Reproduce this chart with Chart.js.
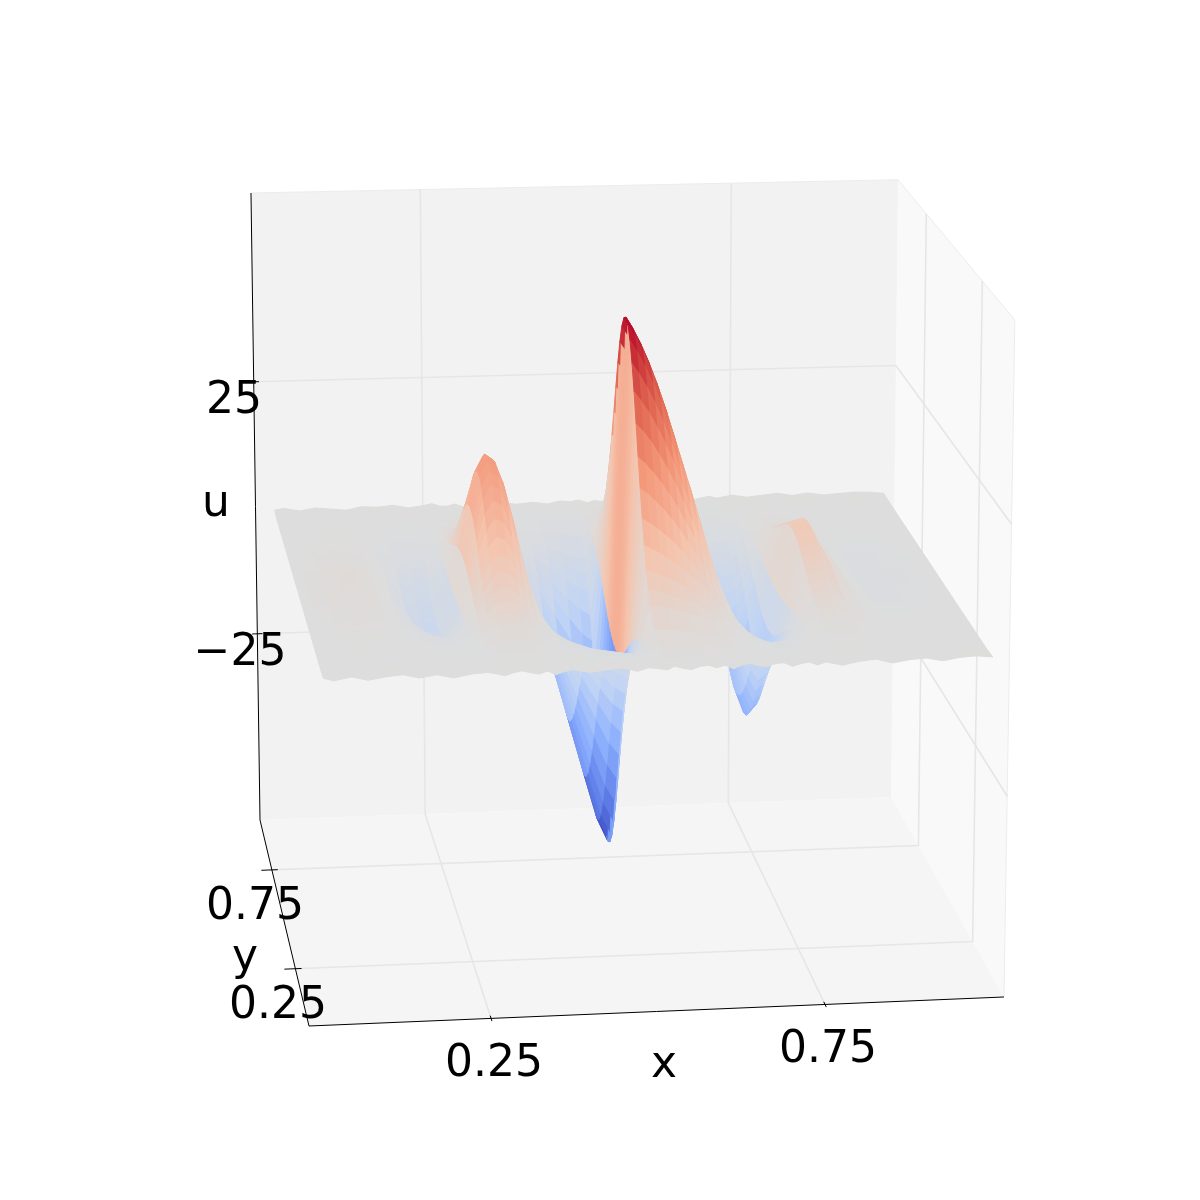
<!DOCTYPE html>
<html>
<head>
<meta charset="utf-8">
<script src="https://cdn.jsdelivr.net/npm/chart.js@4"></script>
<style>
  html, body { margin: 0; padding: 0; background: #fff; }
  canvas { display: block; }
</style>
</head>
<body>
<canvas id="surface" width="1200" height="1200"></canvas>
<script>
// surface: u at each (x, y)
const xValues = [.01, .025, .05, .075, .1, .125, .15, .175, .2, .225, .25, .2625, .275, .2875, .3, .3125, .325, .3375, .35, .3625, .375, .4, .425, .45, .47, .487, .5, .515, .525, .5375, .55, .5625, .575, .5875, .6, .6125, .625, .6375, .65, .6625, .675, .6875, .7, .7125, .725, .7375, .75, .775, .8, .825, .85, .875, .9, .925, .95, .975, 1];
const yValues = [0, .05, .1, .15, .2, .225, .25, .275, .3, .325, .35, .375, .4, .425, .45, .475, .5, .525, .55, .575, .6, .625, .65, .675, .7, .725, .75, .775, .8, .85, .9, .95, 1];
const uGrid = [
  [.3,-.2,.4,-.3,.2,.5,-.2,.3,-.4,.2,.4,.1,-.3,.2,.5,.1,-.2,.3,-.4,.1,.4,-.2,.2,.4,-.3,.3,.1,-.2,.4,0,-.3,.2,.4,-.1,.3,-.4,.2,.5,0,-.2,.3,.4,-.3,.1,.4,-.2,.3,-.4,.2,.5,-.3,.2,.4,-.2,.3,.5,.2],
  [0,.1,0,.1,.1,0,0,0,-.1,0,0,0,.1,.1,.1,.1,.1,.1,0,0,0,-.1,-.1,-.2,-.3,-.3,-.1,.3,.3,.3,.2,.2,.2,.2,.1,.1,.1,0,0,0,-.1,-.1,-.1,-.1,-.1,-.1,0,.1,.1,0,0,0,0,0,0,0,0],
  [0,0,0,0,0,0,0,-.1,-.1,-.1,0,.1,.3,.4,.4,.4,.3,.2,.1,0,-.1,-.3,-.4,-.6,-.8,-.9,-.2,.9,.8,.8,.7,.6,.6,.5,.4,.3,.2,.1,0,-.1,-.3,-.4,-.4,-.4,-.3,-.2,0,.2,.2,.1,0,0,0,0,0,0,0],
  [0,0,0,.1,.1,0,0,-.2,-.3,-.4,-.1,.3,.7,.9,1.1,1,.9,.6,.3,0,-.2,-.7,-1.1,-1.6,-2,-2.2,-.6,2.2,2.1,2,1.8,1.7,1.5,1.2,1,.8,.6,.3,.1,-.3,-.7,-1,-1.1,-1.1,-.8,-.4,-.1,.4,.4,.2,0,0,-.1,0,0,0,0],
  [0,0,.1,.2,.2,.1,-.1,-.4,-.8,-.8,-.2,.6,1.5,2.2,2.5,2.4,2,1.4,.7,.1,-.5,-1.5,-2.6,-3.7,-4.6,-5,-1.3,5,4.8,4.5,4.2,3.8,3.3,2.8,2.3,1.8,1.3,.7,.2,-.6,-1.5,-2.2,-2.6,-2.4,-1.8,-1,-.3,.9,1,.4,0,-.1,-.1,-.1,0,0,0],
  [0,0,.1,.2,.2,.1,-.1,-.6,-1.1,-1.2,-.2,.9,2.2,3.1,3.6,3.4,2.8,2,.9,.1,-.7,-2.2,-3.8,-5.4,-6.6,-7.3,-1.9,7.3,7,6.5,6,5.4,4.8,4.1,3.3,2.6,1.8,1,.2,-.9,-2.2,-3.2,-3.8,-3.5,-2.6,-1.5,-.4,1.3,1.5,.6,.1,-.1,-.2,-.1,-.1,0,0],
  [0,0,.2,.3,.3,.2,-.1,-.8,-1.5,-1.6,-.3,1.2,3,4.3,4.9,4.7,3.9,2.7,1.3,.1,-1,-3,-5.2,-7.4,-9.1,-10,-2.6,10,9.6,9,8.3,7.5,6.6,5.6,4.6,3.6,2.5,1.4,.3,-1.2,-3,-4.4,-5.2,-4.8,-3.6,-2,-.5,1.8,2,.8,.1,-.2,-.2,-.2,-.1,0,0],
  [0,.1,.2,.4,.4,.2,-.1,-1.1,-2.1,-2.2,-.4,1.7,4.1,5.9,6.8,6.5,5.4,3.7,1.8,.1,-1.4,-4.1,-7.2,-10.2,-12.5,-13.8,-3.6,13.8,13.2,12.4,11.4,10.3,9.1,7.7,6.3,5,3.4,1.9,.4,-1.7,-4.1,-6.1,-7.2,-6.6,-5,-2.8,-.7,2.5,2.8,1.1,.1,-.3,-.3,-.3,-.1,-.1,0],
  [0,.1,.3,.5,.5,.3,-.2,-1.4,-2.7,-2.9,-.5,2.2,5.4,7.7,8.9,8.5,7,4.9,2.3,.2,-1.8,-5.4,-9.4,-13.3,-16.4,-18,-4.7,18,17.3,16.2,14.9,13.5,11.9,10.1,8.3,6.5,4.5,2.5,.5,-2.2,-5.4,-7.9,-9.4,-8.6,-6.5,-3.6,-.9,3.2,3.6,1.4,.2,-.4,-.4,-.4,-.2,-.1,0],
  [0,.1,.4,.7,.7,.4,-.2,-1.8,-3.4,-3.7,-.7,2.7,6.9,9.8,11.3,10.8,8.9,6.2,3,.2,-2.3,-6.9,-11.9,-16.9,-20.8,-22.9,-6,22.9,22,20.6,19,17.2,15.1,12.8,10.5,8.2,5.7,3.2,.7,-2.7,-6.9,-10.1,-11.9,-11,-8.2,-4.6,-1.1,4.1,4.6,1.8,.2,-.5,-.5,-.5,-.2,-.1,0],
  [0,.1,.4,.8,.8,.4,-.3,-2.2,-4.2,-4.5,-.8,3.4,8.4,12,13.8,13.2,10.9,7.6,3.6,.3,-2.8,-8.4,-14.6,-20.7,-25.5,-28,-7.3,28,26.9,25.2,23.2,21,18.5,15.7,12.9,10.1,7,3.9,.8,-3.4,-8.4,-12.3,-14.6,-13.4,-10.1,-5.6,-1.4,5,5.6,2.2,.3,-.6,-.7,-.6,-.3,-.1,0],
  [0,.1,.5,1,1,.5,-.3,-2.7,-5,-5.4,-1,4,10.1,14.4,16.5,15.7,13.1,9,4.4,.3,-3.4,-10.1,-17.4,-24.8,-30.5,-33.5,-8.7,33.5,32.2,30.2,27.8,25.1,22.1,18.8,15.4,12.1,8.4,4.7,1,-4,-10.1,-14.7,-17.4,-16.1,-12.1,-6.7,-1.7,6,6.7,2.7,.3,-.7,-.8,-.7,-.3,-.1,0],
  [0,.2,.6,1.2,1.2,.6,-.4,-3.1,-5.8,-6.2,-1.2,4.7,11.6,16.7,19.1,18.2,15.1,10.5,5,.4,-3.9,-11.6,-20.2,-28.7,-35.3,-38.8,-10.1,38.8,37.2,34.9,32.2,29.1,25.6,21.7,17.8,14,9.7,5.4,1.2,-4.7,-11.6,-17.1,-20.2,-18.6,-14,-7.8,-1.9,7,7.8,3.1,.4,-.8,-.9,-.8,-.4,-.2,0],
  [0,.2,.7,1.3,1.3,.7,-.4,-3.5,-6.5,-6.9,-1.3,5.2,13,18.6,21.3,20.4,16.9,11.7,5.6,.4,-4.3,-13,-22.5,-32.1,-39.4,-43.4,-11.3,43.4,41.6,39,36,32.5,28.6,24.3,19.9,15.6,10.8,6.1,1.3,-5.2,-13,-19.1,-22.5,-20.8,-15.6,-8.7,-2.2,7.8,8.7,3.5,.4,-.9,-1,-.9,-.4,-.2,0],
  [0,.2,.8,1.4,1.4,.8,-.5,-3.8,-7,-7.5,-1.4,5.6,14.1,20.2,23.1,22.1,18.3,12.7,6.1,.5,-4.7,-14.1,-24.4,-34.8,-42.8,-47,-12.2,47,45.1,42.3,39,35.3,31,26.3,21.6,16.9,11.8,6.6,1.4,-5.6,-14.1,-20.7,-24.4,-22.6,-16.9,-9.4,-2.4,8.5,9.4,3.8,.5,-.9,-1.1,-.9,-.5,-.2,0],
  [0,.2,.8,1.5,1.5,.8,-.5,-3.9,-7.4,-7.9,-1.5,5.9,14.8,21.2,24.2,23.1,19.2,13.3,6.4,.5,-4.9,-14.8,-25.6,-36.4,-44.8,-49.2,-12.8,49.2,47.2,44.3,40.8,36.9,32.5,27.6,22.6,17.7,12.3,6.9,1.5,-5.9,-14.8,-21.6,-25.6,-23.6,-17.7,-9.8,-2.5,8.9,9.8,3.9,.5,-1,-1.2,-1,-.5,-.2,0],
  [0,.2,.8,1.5,1.5,.8,-.5,-4,-7.5,-8,-1.5,6,15,21.5,24.6,23.5,19.5,13.5,6.5,.5,-5,-15,-26,-37,-45.5,-50,-13,50,48,45,41.5,37.5,33,28,23,18,12.5,7,1.5,-6,-15,-22,-26,-24,-18,-10,-2.5,9,10,4,.5,-1,-1.2,-1,-.5,-.2,0],
  [0,.2,.8,1.5,1.5,.8,-.5,-3.9,-7.4,-7.9,-1.5,5.9,14.8,21.2,24.2,23.1,19.2,13.3,6.4,.5,-4.9,-14.8,-25.6,-36.4,-44.8,-49.2,-12.8,49.2,47.2,44.3,40.8,36.9,32.5,27.6,22.6,17.7,12.3,6.9,1.5,-5.9,-14.8,-21.6,-25.6,-23.6,-17.7,-9.8,-2.5,8.9,9.8,3.9,.5,-1,-1.2,-1,-.5,-.2,0],
  [0,.2,.8,1.4,1.4,.8,-.5,-3.8,-7,-7.5,-1.4,5.6,14.1,20.2,23.1,22.1,18.3,12.7,6.1,.5,-4.7,-14.1,-24.4,-34.8,-42.8,-47,-12.2,47,45.1,42.3,39,35.3,31,26.3,21.6,16.9,11.8,6.6,1.4,-5.6,-14.1,-20.7,-24.4,-22.6,-16.9,-9.4,-2.4,8.5,9.4,3.8,.5,-.9,-1.1,-.9,-.5,-.2,0],
  [0,.2,.7,1.3,1.3,.7,-.4,-3.5,-6.5,-6.9,-1.3,5.2,13,18.6,21.3,20.4,16.9,11.7,5.6,.4,-4.3,-13,-22.5,-32.1,-39.4,-43.4,-11.3,43.4,41.6,39,36,32.5,28.6,24.3,19.9,15.6,10.8,6.1,1.3,-5.2,-13,-19.1,-22.5,-20.8,-15.6,-8.7,-2.2,7.8,8.7,3.5,.4,-.9,-1,-.9,-.4,-.2,0],
  [0,.2,.6,1.2,1.2,.6,-.4,-3.1,-5.8,-6.2,-1.2,4.7,11.6,16.7,19.1,18.2,15.1,10.5,5,.4,-3.9,-11.6,-20.2,-28.7,-35.3,-38.8,-10.1,38.8,37.2,34.9,32.2,29.1,25.6,21.7,17.8,14,9.7,5.4,1.2,-4.7,-11.6,-17.1,-20.2,-18.6,-14,-7.8,-1.9,7,7.8,3.1,.4,-.8,-.9,-.8,-.4,-.2,0],
  [0,.1,.5,1,1,.5,-.3,-2.7,-5,-5.4,-1,4,10.1,14.4,16.5,15.7,13.1,9,4.4,.3,-3.4,-10.1,-17.4,-24.8,-30.5,-33.5,-8.7,33.5,32.2,30.2,27.8,25.1,22.1,18.8,15.4,12.1,8.4,4.7,1,-4,-10.1,-14.7,-17.4,-16.1,-12.1,-6.7,-1.7,6,6.7,2.7,.3,-.7,-.8,-.7,-.3,-.1,0],
  [0,.1,.4,.8,.8,.4,-.3,-2.2,-4.2,-4.5,-.8,3.4,8.4,12,13.8,13.2,10.9,7.6,3.6,.3,-2.8,-8.4,-14.6,-20.7,-25.5,-28,-7.3,28,26.9,25.2,23.2,21,18.5,15.7,12.9,10.1,7,3.9,.8,-3.4,-8.4,-12.3,-14.6,-13.4,-10.1,-5.6,-1.4,5,5.6,2.2,.3,-.6,-.7,-.6,-.3,-.1,0],
  [0,.1,.4,.7,.7,.4,-.2,-1.8,-3.4,-3.7,-.7,2.7,6.9,9.8,11.3,10.8,8.9,6.2,3,.2,-2.3,-6.9,-11.9,-16.9,-20.8,-22.9,-6,22.9,22,20.6,19,17.2,15.1,12.8,10.5,8.2,5.7,3.2,.7,-2.7,-6.9,-10.1,-11.9,-11,-8.2,-4.6,-1.1,4.1,4.6,1.8,.2,-.5,-.5,-.5,-.2,-.1,0],
  [0,.1,.3,.5,.5,.3,-.2,-1.4,-2.7,-2.9,-.5,2.2,5.4,7.7,8.9,8.5,7,4.9,2.3,.2,-1.8,-5.4,-9.4,-13.3,-16.4,-18,-4.7,18,17.3,16.2,14.9,13.5,11.9,10.1,8.3,6.5,4.5,2.5,.5,-2.2,-5.4,-7.9,-9.4,-8.6,-6.5,-3.6,-.9,3.2,3.6,1.4,.2,-.4,-.4,-.4,-.2,-.1,0],
  [0,.1,.2,.4,.4,.2,-.1,-1.1,-2.1,-2.2,-.4,1.7,4.1,5.9,6.8,6.5,5.4,3.7,1.8,.1,-1.4,-4.1,-7.2,-10.2,-12.5,-13.8,-3.6,13.8,13.2,12.4,11.4,10.3,9.1,7.7,6.3,5,3.4,1.9,.4,-1.7,-4.1,-6.1,-7.2,-6.6,-5,-2.8,-.7,2.5,2.8,1.1,.1,-.3,-.3,-.3,-.1,-.1,0],
  [0,0,.2,.3,.3,.2,-.1,-.8,-1.5,-1.6,-.3,1.2,3,4.3,4.9,4.7,3.9,2.7,1.3,.1,-1,-3,-5.2,-7.4,-9.1,-10,-2.6,10,9.6,9,8.3,7.5,6.6,5.6,4.6,3.6,2.5,1.4,.3,-1.2,-3,-4.4,-5.2,-4.8,-3.6,-2,-.5,1.8,2,.8,.1,-.2,-.2,-.2,-.1,0,0],
  [0,0,.1,.2,.2,.1,-.1,-.6,-1.1,-1.2,-.2,.9,2.2,3.1,3.6,3.4,2.8,2,.9,.1,-.7,-2.2,-3.8,-5.4,-6.6,-7.3,-1.9,7.3,7,6.5,6,5.4,4.8,4.1,3.3,2.6,1.8,1,.2,-.9,-2.2,-3.2,-3.8,-3.5,-2.6,-1.5,-.4,1.3,1.5,.6,.1,-.1,-.2,-.1,-.1,0,0],
  [0,0,.1,.2,.2,.1,-.1,-.4,-.8,-.8,-.2,.6,1.5,2.2,2.5,2.4,2,1.4,.7,.1,-.5,-1.5,-2.6,-3.7,-4.6,-5,-1.3,5,4.8,4.5,4.2,3.8,3.3,2.8,2.3,1.8,1.3,.7,.2,-.6,-1.5,-2.2,-2.6,-2.4,-1.8,-1,-.3,.9,1,.4,0,-.1,-.1,-.1,0,0,0],
  [0,0,0,.1,.1,0,0,-.2,-.3,-.4,-.1,.3,.7,.9,1.1,1,.9,.6,.3,0,-.2,-.7,-1.1,-1.6,-2,-2.2,-.6,2.2,2.1,2,1.8,1.7,1.5,1.2,1,.8,.6,.3,.1,-.3,-.7,-1,-1.1,-1.1,-.8,-.4,-.1,.4,.4,.2,0,0,-.1,0,0,0,0],
  [0,0,0,0,0,0,0,-.1,-.1,-.1,0,.1,.3,.4,.4,.4,.3,.2,.1,0,-.1,-.3,-.4,-.6,-.8,-.9,-.2,.9,.8,.8,.7,.6,.6,.5,.4,.3,.2,.1,0,-.1,-.3,-.4,-.4,-.4,-.3,-.2,0,.2,.2,.1,0,0,0,0,0,0,0],
  [0,.1,0,.1,.1,0,0,0,-.1,0,0,0,.1,.1,.1,.1,.1,.1,0,0,0,-.1,-.1,-.2,-.3,-.3,-.1,.3,.3,.3,.2,.2,.2,.2,.1,.1,.1,0,0,0,-.1,-.1,-.1,-.1,-.1,-.1,0,.1,.1,0,0,0,0,0,0,0,0],
  [.2,.5,-.1,.4,.1,-.2,.4,.2,.5,-.1,.3,.6,.1,0,.4,-.2,.1,.3,.5,.1,.4,0,.3,-.1,.4,.2,.5,-.1,.3,.1,0,.5,.2,.3,-.2,.2,.4,.1,.5,0,.3,-.1,.2,.5,.1,.3,.6,.1,.4,.7,.2,.6,.1,.3,.5,.4,.1]
];

// ticks and axis titles
const xTicks = [.25, .75];
const yTicks = [.25, .75];
const uTicks = [25, -25];
const tickLabels = ['0.25', '0.75', '0.75', '0.25', '25', '\u221225'];
const titles = ['x', 'y', 'u'];

const uMin = -50, uMax = 50;
const coolwarm = [[59, 76, 192], [98, 130, 234], [141, 176, 254], [192, 212, 245], [221, 221, 221], [245, 196, 173], [244, 152, 122], [222, 96, 77], [180, 4, 38]];

// camera fitted to the corners of the box, works on 0..1 box coords
function project(bx, by, bz) {
  const w = 1 + .01797 * bx + .10464 * by - .02751 * bz;
  return {
    x: (309 + 713.04 * bx - 21.79 * by - 16.86 * bz) / w,
    y: (1026 - 11.09 * bx - 120.2 * by - 697.9 * bz) / w,
    depth: w
  };
}
const boxX = v => .0183 + .961 * v;
const boxZ = u => (u + 62.6) / 124.4;
const plot = (x, y, u) => project(boxX(x), boxX(y), boxZ(u));

function colorFor(u) {
  const t = Math.min(1, Math.max(0, (u - uMin) / (uMax - uMin))) * (coolwarm.length - 1);
  const i = Math.min(coolwarm.length - 2, Math.floor(t));
  const c = coolwarm[i].map((v, k) => Math.round(v + (coolwarm[i + 1][k] - v) * (t - i)));
  return `rgb(${c[0]},${c[1]},${c[2]})`;
}

function line(points, color, width) {
  return { data: points, showLine: true, fill: false, borderColor: color, borderWidth: width, pointRadius: 0, tension: 0 };
}
function pane(points, color) {
  return { data: [...points, points[0]], showLine: true, fill: 'shape', backgroundColor: color, borderColor: color, borderWidth: 0, pointRadius: 0, tension: 0 };
}

// surface cells, nearest to the camera first because chart.js paints the first dataset last
const cells = [];
for (let j = 0; j < yValues.length - 1; j++) {
  for (let i = 0; i < xValues.length - 1; i++) {
    const corners = [
      plot(xValues[i], yValues[j], uGrid[j][i]),
      plot(xValues[i + 1], yValues[j], uGrid[j][i + 1]),
      plot(xValues[i + 1], yValues[j + 1], uGrid[j + 1][i + 1]),
      plot(xValues[i], yValues[j + 1], uGrid[j + 1][i])
    ];
    const mean = (uGrid[j][i] + uGrid[j][i + 1] + uGrid[j + 1][i + 1] + uGrid[j + 1][i]) / 4;
    cells.push({ corners, color: colorFor(mean), depth: corners.reduce((s, c) => s + c.depth, 0) / 4 });
  }
}
cells.sort((a, b) => a.depth - b.depth);
const cellSets = cells.map(c => ({
  data: [...c.corners, c.corners[0]],
  showLine: true, fill: 'shape', backgroundColor: c.color, borderColor: c.color, borderWidth: 1, pointRadius: 0, tension: 0
}));

const gridColor = '#e6e6e6';
const gridSets = [];
xTicks.forEach(t => {
  const b = boxX(t);
  gridSets.push(line([project(b, 0, 0), project(b, 1, 0), project(b, 1, 1)], gridColor, 1.6));
});
yTicks.forEach(t => {
  const b = boxX(t);
  gridSets.push(line([project(0, b, 0), project(1, b, 0), project(1, b, 1)], gridColor, 1.6));
});
uTicks.forEach(t => {
  const b = boxZ(t);
  gridSets.push(line([project(0, 1, b), project(1, 1, b), project(1, 0, b)], gridColor, 1.6));
});

const tickSets = [];
xTicks.forEach(t => tickSets.push(line([project(boxX(t), -.012, 0), project(boxX(t), .012, 0)], '#000', 1)));
yTicks.forEach(t => tickSets.push(line([project(-.016, boxX(t), 0), project(.009, boxX(t), 0)], '#000', 1)));
uTicks.forEach(t => tickSets.push(line([project(-.008, 1, boxZ(t)), project(.008, 1, boxZ(t))], '#000', 1)));

const axisSets = [
  line([project(0, 1, 1), project(0, 1, 0), project(0, 0, 0), project(1, 0, 0)], '#000', 1),
];
const edgeColor = '#ececec';
const paneSets = [
  line([project(0, 1, 1), project(1, 1, 1), project(1, 0, 1), project(1, 0, 0)], edgeColor, 1),
  pane([project(0, 1, 0), project(1, 1, 0), project(1, 1, 1), project(0, 1, 1)], '#f2f2f2'),
  pane([project(0, 0, 0), project(1, 0, 0), project(1, 1, 0), project(0, 1, 0)], '#f5f5f5'),
  pane([project(1, 0, 0), project(1, 1, 0), project(1, 1, 1), project(1, 0, 1)], '#f9f9f9')
];

const labelSpots = [
  [494, 1065, tickLabels[0]], [828, 1051, tickLabels[1]],
  [255, 908, tickLabels[2]], [278, 1007, tickLabels[3]],
  [234, 402, tickLabels[4]], [240, 654, tickLabels[5]],
  [664, 1066, titles[0]], [245, 959, titles[1]], [216, 505, titles[2]]
];

const axisText = {
  id: 'axisText',
  afterDraw(chart) {
    const { ctx, scales } = chart;
    ctx.save();
    ctx.font = '44px "DejaVu Sans"';
    ctx.fillStyle = '#000';
    ctx.textAlign = 'center';
    ctx.textBaseline = 'middle';
    labelSpots.forEach(([px, py, text]) => {
      ctx.fillText(text, scales.x.getPixelForValue(px), scales.y.getPixelForValue(py));
    });
    ctx.restore();
  }
};

new Chart(document.getElementById('surface'), {
  type: 'scatter',
  data: { datasets: [...tickSets, ...axisSets, ...cellSets, ...gridSets, ...paneSets] },
  options: {
    responsive: false,
    animation: false,
    events: [],
    layout: { padding: 0 },
    plugins: { legend: { display: false }, tooltip: { enabled: false } },
    scales: {
      x: { type: 'linear', min: 0, max: 1200, display: false },
      y: { type: 'linear', min: 0, max: 1200, reverse: true, display: false }
    }
  },
  plugins: [axisText]
});
</script>
</body>
</html>
